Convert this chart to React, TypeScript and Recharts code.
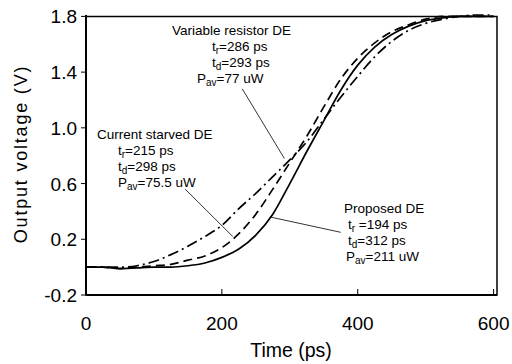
import React from "react";
import { LineChart, Line, XAxis, YAxis, ReferenceArea, ReferenceLine } from "recharts";

const times = [0, 25, 50, 75, 100, 125, 150, 175, 200, 225, 250, 275, 300, 325, 350, 375, 400, 425, 450, 475, 500, 525, 550, 575, 600];
const proposed = [0, 0, -0.01, -0.005, 0, 0, 0.01, 0.03, 0.07, 0.13, 0.23, 0.38, 0.6, 0.83, 1.05, 1.27, 1.45, 1.58, 1.67, 1.73, 1.77, 1.79, 1.8, 1.8, 1.8];
const currentStarved = [0, 0, -0.01, 0, 0.01, 0.02, 0.05, 0.08, 0.14, 0.24, 0.38, 0.56, 0.75, 0.94, 1.15, 1.35, 1.5, 1.61, 1.69, 1.74, 1.78, 1.8, 1.8, 1.8, 1.8];
const variableResistor = [0, 0, 0, 0.01, 0.04, 0.09, 0.15, 0.22, 0.3, 0.42, 0.53, 0.65, 0.77, 0.9, 1.06, 1.22, 1.37, 1.51, 1.62, 1.7, 1.75, 1.78, 1.8, 1.81, 1.81];

const xTicks = [0, 200, 400, 600];
const yTicks = [-0.2, 0.2, 0.6, 1.0, 1.4, 1.8];

const data = times.map((t, i) => ({
  t,
  proposed: proposed[i],
  current: currentStarved[i],
  variable: variableResistor[i],
}));

const FONT = "'Liberation Sans', Arial, Helvetica, sans-serif";

const XTick = (props: any) => {
  const { x, y, payload } = props;
  return (
    <g>
      <line x1={x} y1={y} x2={x} y2={y - 6} stroke="#000" strokeWidth={1} />
      <text x={x} y={y + 35} textAnchor="middle" fontSize={19} fontFamily={FONT} fill="#000">
        {payload.value}
      </text>
    </g>
  );
};

const YTick = (props: any) => {
  const { x, y, payload } = props;
  const v = Number(payload.value);
  return (
    <g>
      <line x1={x} y1={y} x2={x - 5} y2={y} stroke="#000" strokeWidth={1} />
      <text x={x - 9} y={y + 7} textAnchor="end" fontSize={19} fontFamily={FONT} fill="#000">
        {v.toFixed(1)}
      </text>
    </g>
  );
};

const Ann = ({ x, y, lines }: { x: number; y: number; lines: { main: string; sub?: string; rest?: string; dx?: number }[] }) => (
  <g fontFamily={FONT} fontSize={13.5} fill="#000">
    {lines.map((l, i) => (
      <text key={i} x={x + (l.dx || 0)} y={y + i * 16} textAnchor="start">
        {l.main}
        {l.sub ? (
          <tspan fontSize={10} dy={3}>
            {l.sub}
          </tspan>
        ) : null}
        {l.rest ? <tspan dy={l.sub ? -3 : 0}>{l.rest}</tspan> : null}
      </text>
    ))}
  </g>
);

export default function App() {
  return (
    <div style={{ position: "absolute", left: 0, top: 0, width: 512, height: 364, background: "#fff" }}>
      <LineChart
        width={512}
        height={364}
        data={data}
        margin={{ top: 15, right: 15, bottom: 39, left: 26 }}
      >
        <XAxis
          dataKey="t"
          type="number"
          domain={[0, 605]}
          ticks={xTicks}
          axisLine={{ stroke: "#000", strokeWidth: 2 }}
          tickLine={false}
          tickSize={0}
          tickMargin={0}
          height={30}
          tick={<XTick />}
          interval={0}
        />
        <YAxis
          type="number"
          domain={[-0.2, 1.8]}
          ticks={yTicks}
          axisLine={{ stroke: "#000", strokeWidth: 2 }}
          tickLine={false}
          tickSize={0}
          tickMargin={0}
          width={60}
          tick={<YTick />}
          interval={0}
        />
        <ReferenceArea x1={0} x2={605} y1={-0.2} y2={1.8} fill="none" stroke="#000" strokeWidth={1.5} />
        <ReferenceLine segment={[{ x: 230, y: 1.28 }, { x: 292, y: 0.78 }]} stroke="#000" strokeWidth={0.8} />
        <ReferenceLine segment={[{ x: 146, y: 0.56 }, { x: 216, y: 0.22 }]} stroke="#000" strokeWidth={0.8} />
        <ReferenceLine segment={[{ x: 271, y: 0.36 }, { x: 375, y: 0.25 }]} stroke="#000" strokeWidth={0.8} />
        <Line type="monotone" dataKey="variable" stroke="#000" strokeWidth={1.7} strokeDasharray="11 4 2 4" dot={false} isAnimationActive={false} />
        <Line type="monotone" dataKey="current" stroke="#000" strokeWidth={1.7} strokeDasharray="9 5" dot={false} isAnimationActive={false} />
        <Line type="monotone" dataKey="proposed" stroke="#000" strokeWidth={1.7} dot={false} isAnimationActive={false} />
      </LineChart>
      <svg width={512} height={364} style={{ position: "absolute", left: 0, top: 0, pointerEvents: "none" }}>
        <text
          x={27}
          y={154}
          transform="rotate(-90 27 154)"
          textAnchor="middle"
          fontSize={18}
          letterSpacing={1.8}
          fontFamily={FONT}
          fill="#000"
        >
          Output voltage (V)
        </text>
        <text x={291} y={357} textAnchor="middle" fontSize={19.5} fontFamily={FONT} fill="#000">
          Time (ps)
        </text>
        <Ann
          x={172}
          y={35}
          lines={[
            { main: "Variable resistor DE" },
            { main: "t", sub: "r", rest: "=286 ps", dx: 40 },
            { main: "t", sub: "d", rest: "=293 ps", dx: 40 },
            { main: "P", sub: "av", rest: "=77 uW", dx: 25 },
          ]}
        />
        <Ann
          x={97}
          y={139}
          lines={[
            { main: "Current starved DE" },
            { main: "t", sub: "r", rest: "=215 ps", dx: 21 },
            { main: "t", sub: "d", rest: "=298 ps", dx: 21 },
            { main: "P", sub: "av", rest: "=75.5 uW", dx: 21 },
          ]}
        />
        <Ann
          x={344}
          y={213}
          lines={[
            { main: "Proposed DE" },
            { main: "t", sub: "r", rest: " =194 ps", dx: 4 },
            { main: "t", sub: "d", rest: "=312 ps", dx: 4 },
            { main: "P", sub: "av", rest: "=211 uW", dx: 2 },
          ]}
        />
      </svg>
    </div>
  );
}
